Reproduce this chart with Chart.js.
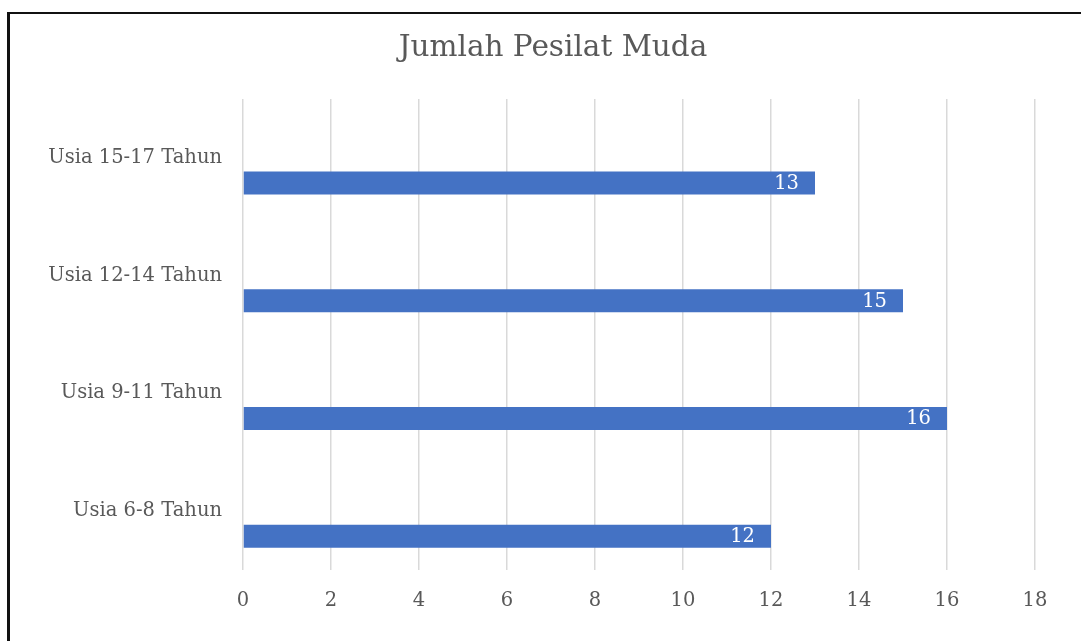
<!DOCTYPE html>
<html>
<head>
<meta charset="utf-8">
<script src="https://cdn.jsdelivr.net/npm/chart.js@4"></script>
<style>
  html, body { margin: 0; padding: 0; background: #fff; overflow: hidden; }
  #frame {
    position: absolute; left: 7px; top: 12px; width: 1200px; height: 700px;
    border-left: 3px solid #111; border-top: 2px solid #111;
  }
  #wrap { position: absolute; left: 0; top: 0; width: 1081px; height: 641px; }
</style>
</head>
<body>
<div id="frame"></div>
<div id="wrap"><canvas id="pesilat-chart"></canvas></div>
<script>
// categories top to bottom
const categories = ["Usia 15-17 Tahun", "Usia 12-14 Tahun", "Usia 9-11 Tahun", "Usia 6-8 Tahun"];
// number of young fighters per age group
const jumlah = [13, 15, 16, 12];
// the empty series Excel reserved space for
const kosong = [null, null, null, null];
const xTicks = [0, 2, 4, 6, 8, 10, 12, 14, 16, 18];

const serif = "'DejaVu Serif', 'Liberation Serif', serif";
const grey = "#595959";

// draw value labels inside the end of each bar
const insideEndLabels = {
  id: "insideEndLabels",
  afterDatasetsDraw(chart) {
    const ctx = chart.ctx;
    const meta = chart.getDatasetMeta(1);
    ctx.save();
    ctx.fillStyle = "#ffffff";
    ctx.font = "19.5px " + serif;
    ctx.textAlign = "right";
    ctx.textBaseline = "middle";
    meta.data.forEach((bar, i) => {
      ctx.fillText(String(jumlah[i]), bar.x - 16, bar.y + 1);
    });
    ctx.restore();
  },
};

// shift the title so it is centred like in the excel chart
const titleShift = {
  id: "titleShift",
  afterLayout(chart) {
    if (chart.titleBlock) chart.titleBlock.left = 71;
  },
};

const ctx = document.getElementById("pesilat-chart");

new Chart(ctx, {
  type: "bar",
  data: {
    labels: categories,
    datasets: [
      {
        label: "Series 2",
        data: kosong,
        backgroundColor: "#4472C4",
        categoryPercentage: 0.85,
        barPercentage: 0.46,
      },
      {
        label: "Jumlah",
        data: jumlah,
        backgroundColor: "#4472C4",
        categoryPercentage: 0.85,
        barPercentage: 0.46,
      },
    ],
  },
  options: {
    indexAxis: "y",
    responsive: true,
    maintainAspectRatio: false,
    animation: false,
    layout: { padding: { left: 0, right: 46, top: 0, bottom: 0 } },
    plugins: {
      legend: { display: false },
      tooltip: { enabled: false },
      title: {
        display: true,
        text: "Jumlah Pesilat Muda",
        color: grey,
        font: { family: serif, size: 29.5, weight: "normal", lineHeight: 1.2 },
        padding: { top: 31, bottom: 32.6 },
      },
    },
    scales: {
      x: {
        min: 0,
        max: 18,
        afterBuildTicks(scale) {
          scale.ticks = xTicks.map((v) => ({ value: v }));
        },
        afterFit(scale) {
          scale.height = 71;
        },
        grid: { color: "#d9d9d9", lineWidth: 1.5, drawTicks: false },
        border: { display: false },
        ticks: {
          color: grey,
          font: { family: serif, size: 19.5 },
          padding: 19,
        },
      },
      y: {
        afterFit(scale) {
          scale.width = 243;
        },
        grid: { display: false },
        border: { display: false },
        ticks: {
          color: grey,
          font: { family: serif, size: 19.5 },
          padding: 13,
        },
      },
    },
  },
  plugins: [insideEndLabels, titleShift],
});
</script>
</body>
</html>
